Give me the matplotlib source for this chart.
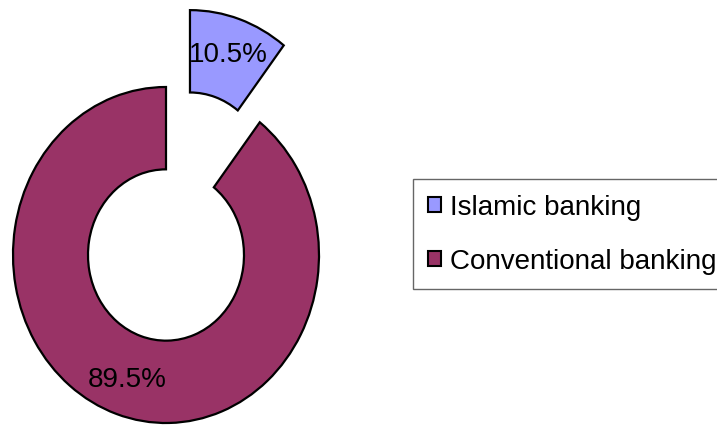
import numpy as np
import matplotlib.pyplot as plt
from matplotlib.patches import Patch

plt.rcParams['font.family'] = ['Liberation Sans', 'DejaVu Sans']

labels = ['Islamic banking', 'Conventional banking']
shares = [10.5, 89.5]
colors = ['#9999FF', '#993366']

fig = plt.figure(figsize=(7.17, 4.27), dpi=100)
ax = fig.add_axes([0, 0, 1, 1])

# x in pixels, y stretched a bit: the original donut is slightly taller than wide
ystretch = 168 / 153
R = 153
wedges, texts, autotexts = ax.pie(
    shares, colors=colors, explode=[74, 0], startangle=90, counterclock=False,
    center=(166, (427 - 256) / ystretch), radius=R, autopct='%.1f%%', pctdistance=0.78,
    wedgeprops=dict(width=75, edgecolor='black', linewidth=1.6),
    textprops=dict(fontsize=20, color='black'), frame=True)
ax.set_xlim(0, 717)
ax.set_ylim(0, 427 / ystretch)
ax.set_aspect('auto')
ax.axis('off')

handles = [Patch(facecolor=c, edgecolor='black', linewidth=1.5) for c in colors]
leg = fig.legend(handles, labels, loc='upper left', bbox_to_anchor=(413 / 717, 1 - 180 / 427),
                 fontsize=20, frameon=True, fancybox=False, handlelength=0.45, handleheight=0.45,
                 handletextpad=0.35, labelspacing=1.0, borderpad=0.55, borderaxespad=0)
leg.get_frame().set_edgecolor('#404040')
leg.get_frame().set_linewidth(1.0)

fig.savefig('out.png', dpi=100)
